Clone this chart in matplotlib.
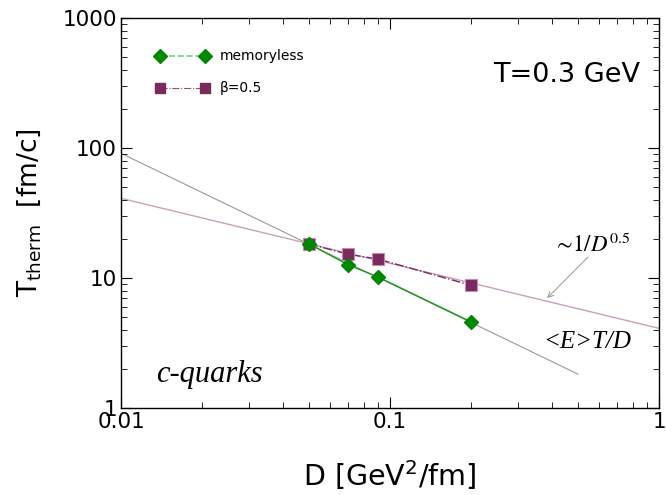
import matplotlib
matplotlib.use("Agg")
import matplotlib.pyplot as plt
import numpy as np
from matplotlib.ticker import LogLocator, FixedLocator, FixedFormatter, NullFormatter

D_vals = [0.05, 0.07, 0.09, 0.2]
tau_memoryless = [18.3, 12.6, 10.2, 4.6]
tau_beta = [18.3, 15.2, 14.0, 8.8]

# reference scaling lines
D_gray = [0.01, 0.5]
gray_coef = 0.91          # <E>T/D ~ coef / D
D_pink = [0.01, 1.0]
pink_coef = 4.1           # ~ coef / D^0.5
pink_exp = 0.5

xticks = [0.01, 0.1, 1]
xticklabels = ["0.01", "0.1", "1"]
yticks = [1, 10, 100, 1000]
yticklabels = ["1", "10", "100", "1000"]

fig = plt.figure(figsize=(6.66, 4.95), dpi=100)
ax = fig.add_axes([0.1817, 0.1758, 0.8078, 0.7878])
ax.set_xscale("log")
ax.set_yscale("log")
ax.set_xlim(0.01, 1)
ax.set_ylim(1, 1000)

Dg = np.array(D_gray)
ax.plot(Dg, gray_coef / Dg, color="#999999", lw=0.8, zorder=1)
Dp = np.array(D_pink)
ax.plot(Dp, pink_coef / Dp**pink_exp, color="#c9a0bd", lw=1.0, zorder=1)

ax.plot(D_vals, tau_memoryless, color="#1a9a1a", lw=1.0, ls="-",
        marker="D", ms=7, mfc="#008800", mec="#008800", zorder=3)
ax.plot(D_vals, tau_beta, color="#7a2a60", lw=1.0, ls="-.",
        marker="s", ms=8, mfc="#7a2a5e", mec="#c28cb0", mew=0.8, zorder=2)

# legend (manual, in axes coords)
ax.plot([0.0725, 0.156], [0.903, 0.903], transform=ax.transAxes, color="#7fcc7f",
        ls="--", lw=1.2, marker="D", ms=7, mfc="#008800", mec="#008800", clip_on=False)
ax.text(0.184, 0.903, "memoryless", transform=ax.transAxes, fontsize=10,
        va="center", ha="left")
ax.plot([0.0725, 0.156], [0.82, 0.82], transform=ax.transAxes, color="#9a4a80",
        ls="-.", lw=0.8, marker="s", ms=7, mfc="#7a2a5e", mec="#7a2a5e", clip_on=False)
ax.text(0.184, 0.82, "β=0.5", transform=ax.transAxes, fontsize=10,
        va="center", ha="left")

ax.text(0.965, 0.854, "T=0.3 GeV", transform=ax.transAxes, fontsize=19.5,
        ha="right", va="center")
ax.text(0.065, 0.085, "c-quarks", transform=ax.transAxes, fontsize=22,
        family="Liberation Serif", style="italic", ha="left", va="center")
ax.text(0.948, 0.17, "<E>T/D", transform=ax.transAxes, fontsize=18,
        family="Liberation Serif", style="italic", ha="right", va="center")
ax.text(0.405, 15.8, r"$\mathit{\sim\!1/D}^{\mathit{0.5}}$", fontsize=16.5,
        math_fontfamily="stix", ha="left", va="baseline")
ax.annotate("", xy=(0.384, 7.0), xytext=(0.545, 14.5),
            arrowprops=dict(arrowstyle="->", color="#999999", lw=0.7,
                            shrinkA=0, shrinkB=0))

ax.xaxis.set_major_locator(FixedLocator(xticks))
ax.xaxis.set_major_formatter(FixedFormatter(xticklabels))
ax.yaxis.set_major_locator(FixedLocator(yticks))
ax.yaxis.set_major_formatter(FixedFormatter(yticklabels))
ax.xaxis.set_minor_locator(LogLocator(base=10, subs=np.arange(2, 10)))
ax.yaxis.set_minor_locator(LogLocator(base=10, subs=np.arange(2, 10)))
ax.xaxis.set_minor_formatter(NullFormatter())
ax.yaxis.set_minor_formatter(NullFormatter())
ax.tick_params(which="both", direction="in", top=True, right=True, labelsize=15.5)
ax.tick_params(which="major", length=8, width=0.8)
ax.tick_params(which="minor", length=4, width=0.6)
ax.tick_params(axis="x", pad=3)
ax.tick_params(axis="y", pad=3)
for s in ax.spines.values():
    s.set_linewidth(1.0)

ax.set_xlabel("D [GeV$^2$/fm]", fontsize=20.5, labelpad=19)
ax.set_ylabel(r"T$_{\mathrm{therm}}$  [fm/c]", fontsize=19, labelpad=14)

fig.savefig("out.png", dpi=100)
